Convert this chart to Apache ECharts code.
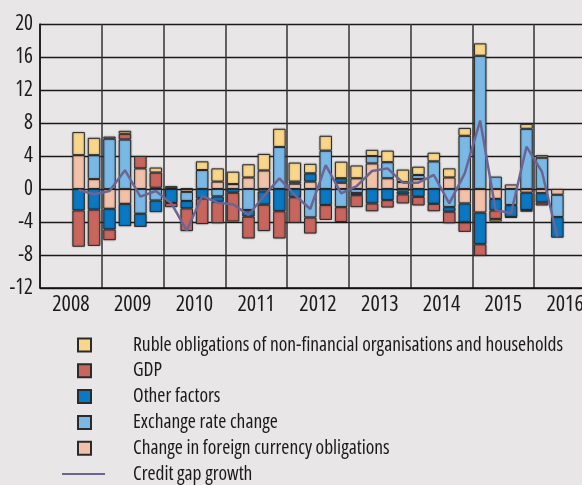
<!DOCTYPE html>
<html>
<head>
<meta charset="utf-8">
<script src="https://cdn.jsdelivr.net/npm/echarts@6/dist/echarts.min.js"></script>
<style>
html,body{margin:0;padding:0;background:#e8e6e7;}
#c{width:582px;height:485px;}
</style>
</head>
<body>
<div id="c"></div>
<script>
// Quarters 2008Q1 .. 2016Q4 (data available 2008Q3 .. 2016Q2)
var years = ['2008','2009','2010','2011','2012','2013','2014','2015','2016'];
var quarters = [];
years.forEach(function(y){ for (var q=1;q<=4;q++) quarters.push(y+'Q'+q); });

// values from 2008Q3 to 2016Q2 (null = no segment)
var foreignCurrency = [4.1,1.2,-2.4,-1.8,2.5,0.15,0.1,-0.35, null,0.9,0.6,1.4,2.25,null,0.65,0.9, null,0.76,1.3,3.1,1.3,0.85,1.2,null, 1.4,-1.75,-2.85,-1.2,0.55,-0.45,-0.5,-0.7];
var exchangeRate    = [null,2.9,6.1,6.0,-3.0,-1.4,null,-1.1, 2.3,-0.9,null,-2.55,-0.3,5.1,0.25,-3.45, 4.65,-2.2,-0.5,0.9,1.95,-0.3,0.5,3.35, -2.2,6.45,16.15,1.5,-1.95,7.3,3.8,-2.7];
var otherFactors    = [-2.6,-2.5,-2.5,-2.7,-1.6,-1.4,-1.7,-0.9, -1.15,-0.65,-0.45,-0.8,-1.6,-2.7,-1.0,1.0, -1.95,0.55,-0.25,-1.75,-1.35,-0.35,-0.95,-1.8, -0.55,-2.3,-3.85,-1.4,-1.45,-2.1,-1.15,-2.5];
var gdp             = [-4.4,-4.4,-1.3,0.7,1.5,1.85,-0.5,-2.75, -3.1,-2.6,-3.5,-2.65,-3.2,-3.3,-3.1,-1.95, -1.8,-1.8,-1.45,-0.95,-0.9,-1.1,-1.05,-0.9, -1.4,-1.15,-1.4,-1.05,-0.1,-0.2,-0.35,null];
var rubleObl        = [2.8,2.1,0.25,0.35,null,0.6,0.25,0.1, 1.05,1.6,1.5,1.6,2.0,2.2,2.3,1.15, 1.8,2.0,1.55,0.75,1.4,1.5,1.0,1.05, 1.1,0.95,1.5,-0.3,null,0.6,0.3,null];
var creditGap       = [-0.12,-0.64,-0.24,2.28,-0.92,-0.24,-1.72,-5.04, -0.85,-1.66,-1.86,-3.15,-0.85,1.29,-0.73,-2.42, 2.9,-0.53,0.36,2.18,2.5,0.77,0.77,1.7, -1.74,1.9,8.3,-2.55,-2.95,5.13,2.1,-5.78];
var yTicks = {min:-12, max:20, interval:4};

function pad(arr){ return [null,null].concat(arr, [null,null]); }

var names = {
  ruble: 'Ruble obligations of non-financial organisations and households',
  gdp: 'GDP',
  other: 'Other factors',
  exch: 'Exchange rate change',
  foreign: 'Change in foreign currency obligations',
  gap: 'Credit gap growth'
};
var colors = {ruble:'#f9d68a', gdp:'#c8665e', other:'#0a78c2', exch:'#7ab9e6', foreign:'#f2c1a9', gap:'#6c6594'};
var FAM = "'Open Sans', sans-serif";
var STRETCH = 'condensed';
var sq = 'path://M0,0M43,13M16,0h13v13h-13z';
var ln = 'path://M0,0M43,13M0,5.5h43v2h-43z';

function bar(key, data){
  return {
    name: names[key], type:'bar', stack:'all', data: pad(data), barWidth: 12.5,
    xAxisIndex:0, yAxisIndex:0,
    itemStyle:{color: colors[key], borderColor:'#2b2b2b', borderWidth:1,
               shadowBlur:2, shadowColor:'rgba(0,0,0,0.35)'}
  };
}

var chart = echarts.init(document.getElementById('c'), null, {renderer:'canvas'});
chart.setOption({
  backgroundColor:'#e8e6e7',
  animation:false,
  textStyle:{fontFamily:FAM, fontStyle:STRETCH},
  grid:{left:40, top:24, width:556, height:264, containLabel:false, outerBoundsMode:'none'},
  legend:{
    orient:'vertical', left:61, top:335, height:200, padding:0, itemWidth:43, itemHeight:13, itemGap:5.8,
    textStyle:{fontFamily:FAM, fontStyle:STRETCH, fontSize:19.5, color:'#1a1a1a', lineHeight:18, padding:[0,0,0,23]},
    data:[
      {name:names.ruble, icon:sq},
      {name:names.gdp, icon:sq},
      {name:names.other, icon:sq},
      {name:names.exch, icon:sq},
      {name:names.foreign, icon:sq},
      {name:names.gap, icon:ln, itemStyle:{color:colors.gap, borderWidth:0}}
    ]
  },
  xAxis:[
    {type:'category', data:quarters, position:'top', boundaryGap:true,
     axisLine:{show:false}, axisTick:{show:false}, axisLabel:{show:false}, splitLine:{show:false}},
    {type:'category', data:years, position:'bottom', boundaryGap:true,
     axisLine:{show:true, lineStyle:{color:'#111', width:1.5}}, axisTick:{show:false},
     axisLabel:{show:true, interval:0, fontFamily:FAM, fontStyle:STRETCH, fontSize:22, color:'#1a1a1a', margin:6,
                alignMinLabel:'center', alignMaxLabel:'center', hideOverlap:false},
     splitLine:{show:true, interval:0, lineStyle:{color:'#333', width:1.5}}}
  ],
  yAxis:{type:'value', min:yTicks.min, max:yTicks.max, interval:yTicks.interval,
     axisLine:{show:true, lineStyle:{color:'#111', width:1.5}}, axisTick:{show:false},
     axisLabel:{fontFamily:FAM, fontStyle:STRETCH, fontSize:21, color:'#1a1a1a', margin:7},
     splitLine:{show:true, lineStyle:{color:'#1a1a1a', width:1.3}}},
  series:[
    bar('foreign', foreignCurrency),
    bar('exch', exchangeRate),
    bar('other', otherFactors),
    bar('gdp', gdp),
    bar('ruble', rubleObl),
    {name:names.gap, type:'line', data:pad(creditGap), xAxisIndex:0, yAxisIndex:0,
     symbol:'none', showSymbol:false, connectNulls:false, z:5,
     lineStyle:{color:colors.gap, width:2.5}, itemStyle:{color:colors.gap}}
  ]
});
</script>
</body>
</html>
